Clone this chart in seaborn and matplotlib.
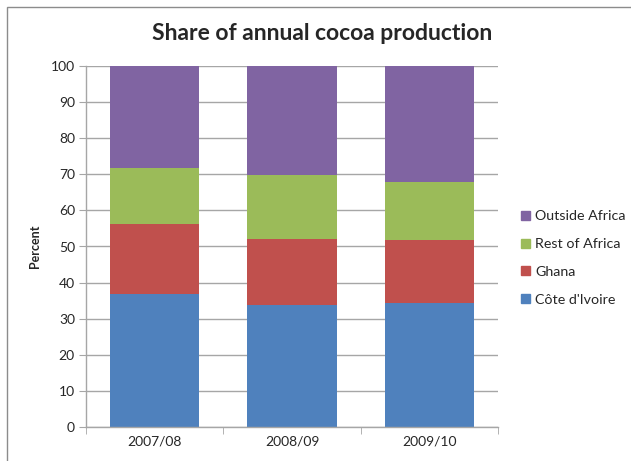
import matplotlib
matplotlib.use("Agg")
import matplotlib.pyplot as plt
import seaborn as sns
import pandas as pd
import numpy as np
from matplotlib.patches import Rectangle
from matplotlib.ticker import FixedLocator

seasons = ["2007/08", "2008/09", "2009/10"]
cote_divoire = [36.8, 33.7, 34.3]
ghana = [19.4, 18.5, 17.5]
rest_of_africa = [15.5, 17.6, 16.2]
outside_africa = [28.3, 30.2, 32.0]

series_names = ["Côte d'Ivoire", "Ghana", "Rest of Africa", "Outside Africa"]
series_values = [cote_divoire, ghana, rest_of_africa, outside_africa]
colors = ["#4F81BD", "#C0504D", "#9BBB59", "#8064A2"]

sns.set_style("white")
plt.rcParams['font.family'] = ['Lato', 'DejaVu Sans']

fig = plt.figure(figsize=(6.31, 4.61), dpi=100)
ax = fig.add_axes([86/631, 34/461, 412/631, 361/461])

cum = np.cumsum(np.array(series_values), axis=0)
# draw cumulative totals from top layer downward
for i in range(len(series_names) - 1, -1, -1):
    df = pd.DataFrame({"season": seasons, "value": cum[i]})
    sns.barplot(data=df, x="season", y="value", color=colors[i], width=0.65,
                saturation=1, ax=ax, zorder=2, edgecolor="none", linewidth=0)

ax.set_ylim(0, 100)
ax.set_xlim(-0.5, 2.5)
ax.set_yticks(range(0, 101, 10))
ax.yaxis.grid(True, color="#a6a6a6", linewidth=1, zorder=0)
ax.set_axisbelow(True)
for s in ["top", "right"]:
    ax.spines[s].set_visible(False)
for s in ["left", "bottom"]:
    ax.spines[s].set_color("#a6a6a6")
    ax.spines[s].set_linewidth(1)
ax.tick_params(axis="y", direction="out", length=5, color="#a6a6a6", labelsize=10, pad=3, left=True)
ax.tick_params(axis="x", which="major", length=0, labelsize=10, pad=6)
ax.xaxis.set_minor_locator(FixedLocator([-0.5, 0.5, 1.5, 2.5]))
ax.tick_params(axis="x", which="minor", direction="out", length=5, color="#a6a6a6", bottom=True)
ax.set_xlabel("")
ax.set_ylabel("Percent", fontsize=9, fontweight="bold", labelpad=7)

handles = [Rectangle((0, 0), 1, 1, color=c) for c in colors]
leg = fig.legend(handles[::-1], series_names[::-1], loc="center left",
                 bbox_to_anchor=(517/631, 1 - 258/461), frameon=False, fontsize=10.3,
                 handlelength=0.6, handleheight=0.6, handletextpad=0.35, labelspacing=1.1,
                 borderaxespad=0, borderpad=0.3)

fig.text(322/631, 1 - 33/461, "Share of annual cocoa production", ha="center", va="center",
         fontsize=16.5, fontweight="bold")

fig.patches.append(Rectangle((7/631, -0.1), 1.2, 1 - 7/461 + 0.1, transform=fig.transFigure,
                             fill=False, edgecolor="#8c8c8c", linewidth=1))

fig.savefig("out.png", dpi=100)
